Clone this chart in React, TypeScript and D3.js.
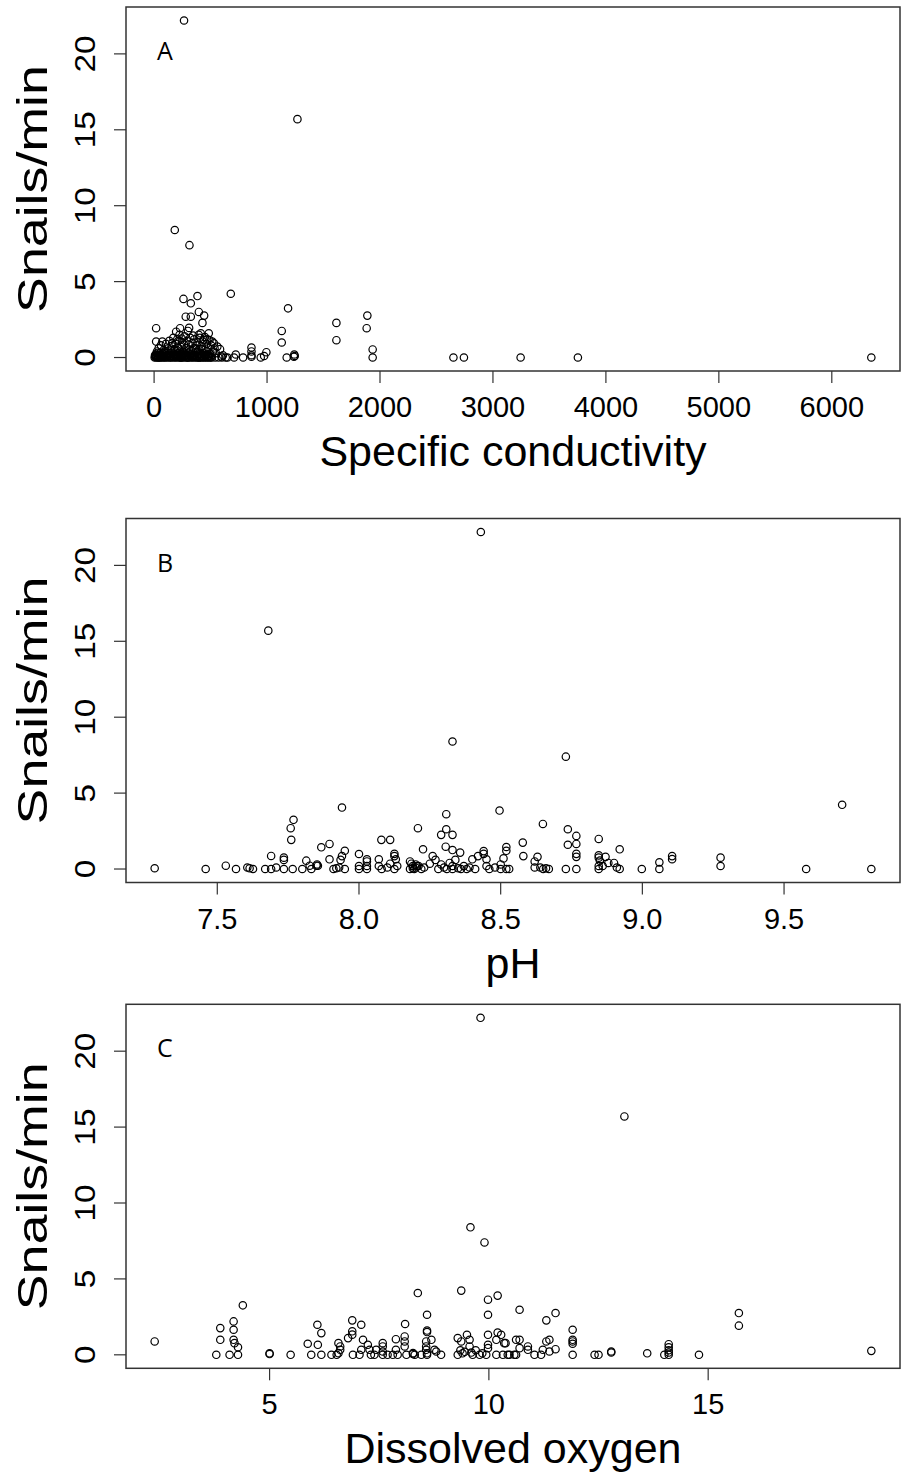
import React from "react";
import * as d3 from "d3";

// Panel A: specific conductivity vs snails/min
const condData: [number, number][] = [
  [265, 22.2], [1269, 15.7], [183, 8.4], [313, 7.4], [679, 4.2], [260, 3.86], [384, 4.05], [325, 3.57],
  [1186, 3.24], [396, 3.0], [443, 2.76], [280, 2.69], [325, 2.69], [1888, 2.76], [1614, 2.28], [428, 2.28],
  [18, 1.93], [1882, 1.93], [1130, 1.75], [230, 1.93], [310, 1.95], [413, 1.6], [484, 1.6], [1130, 0.99],
  [1614, 1.14], [1935, 0.53], [1935, 0], [1174, 0], [1241, 0.2], [1245, 0.1], [1238, 0.05], [862, 0.66],
  [862, 0.4], [862, 0.15], [862, 0.05], [994, 0.35], [974, 0.1], [944, 0], [723, 0.2], [708, 0], [788, 0],
  [634, 0], [2650, 0], [2743, 0], [3245, 0], [3752, 0], [6350, 0], [18, 1.05], [73, 1.05],
  [5, 0], [10, 0.05], [15, 0.2], [20, 0], [25, 0.4], [30, 0.1], [35, 0], [40, 0.6], [45, 0.15], [50, 0],
  [55, 0.3], [60, 0.8], [65, 0], [70, 0.05], [75, 0.25], [80, 0], [85, 0.5], [90, 0.1], [95, 0], [100, 0.35],
  [105, 0.9], [110, 0], [115, 0.15], [120, 0.05], [125, 0.6], [130, 0], [135, 1.1], [140, 0.3], [145, 0],
  [150, 0.1], [155, 0.75], [160, 0], [165, 0.4], [170, 1.3], [175, 0.05], [180, 0], [185, 0.2], [190, 0.9],
  [195, 0], [200, 0.5], [205, 1.2], [210, 0.1], [215, 0], [220, 0.3], [225, 1.5], [230, 0], [235, 0.7],
  [240, 0.15], [245, 0], [250, 1.0], [255, 0.4], [260, 0], [265, 0.05], [270, 1.4], [275, 0.2], [280, 0],
  [285, 0.6], [290, 1.1], [295, 0], [300, 0.3], [305, 0.85], [310, 0], [315, 0.1], [320, 1.3], [325, 0.45],
  [330, 0], [335, 0.2], [340, 0.95], [345, 0], [350, 0.6], [355, 1.2], [360, 0.05], [365, 0], [370, 0.35],
  [375, 0.8], [380, 0], [385, 1.0], [390, 0.2], [395, 0], [400, 0.55], [405, 1.3], [410, 0], [415, 0.1],
  [420, 0.75], [425, 0], [430, 1.05], [435, 0.3], [440, 0], [445, 0.5], [450, 1.35], [455, 0], [460, 0.2],
  [465, 0.9], [470, 0], [475, 0.05], [480, 0.6], [485, 0], [490, 1.15], [495, 0.25], [500, 0], [505, 0.8],
  [510, 0], [520, 0.4], [530, 0.94], [540, 0], [546, 0.29], [560, 0.72], [570, 0], [584, 0.55], [596, 0.07],
  [600, 0], [610, 0.15], [650, 0], [12, 0.1], [28, 0.3], [42, 0], [58, 0.1], [88, 0.2], [102, 0.05],
  [118, 0.3], [142, 0.1], [172, 0.2], [188, 0.05], [202, 0.2], [218, 0.05], [238, 0], [258, 0.25], [278, 0.1],
  [298, 0], [318, 0.2], [338, 0.05], [358, 0.15], [378, 0.1], [398, 0], [418, 0.2], [438, 0.05], [458, 0.1],
  [478, 0.2], [498, 0.05], [8, 0.15], [22, 0.05], [48, 0.25], [68, 0.15], [92, 0.3], [128, 0.2], [148, 0.45],
  [168, 0.1], [182, 0.55], [198, 0.15], [212, 0.65], [228, 0.4], [248, 0.1], [268, 0.3], [288, 0.15],
  [308, 0.5], [328, 0.25], [348, 0.1], [368, 0.6], [388, 0.45], [408, 0.25], [428, 0.55], [448, 0.15],
  [468, 0.4], [488, 0.1], [160, 0.95], [215, 1.1], [245, 1.25], [265, 0.85], [345, 1.45], [395, 1.5],
  [440, 1.15], [470, 1.2], [515, 1.05], [535, 0.6], [195, 1.7], [300, 1.75],
];

// Panel B: pH vs snails/min
const phData: [number, number][] = [
  [8.43, 22.2], [7.68, 15.7], [8.33, 8.4], [8.73, 7.4], [9.705, 4.23], [7.94, 4.05], [8.496, 3.85], [8.308, 3.61],
  [7.769, 3.24], [8.649, 2.97], [7.759, 2.69], [8.208, 2.69], [8.737, 2.62], [8.308, 2.62], [8.29, 2.25],
  [8.33, 2.25], [8.767, 2.18], [8.846, 1.98], [7.761, 1.92], [8.079, 1.92], [8.11, 1.92], [8.578, 1.74],
  [7.896, 1.65], [8.737, 1.6], [8.767, 1.65], [8.306, 1.47], [7.867, 1.43], [8.52, 1.45], [8.226, 1.3],
  [8.92, 1.3], [8.33, 1.25], [8.52, 1.2], [8.357, 1.08], [7.95, 1.2], [8.0, 0.99], [8.767, 1.0], [8.767, 0.8],
  [9.105, 0.85], [9.105, 0.65], [9.276, 0.75], [9.276, 0.2], [9.06, 0.44], [9.06, 0], [8.998, 0], [9.578, 0],
  [9.808, 0], [7.279, 0.05], [7.459, 0], [7.53, 0.22], [7.566, 0], [7.606, 0.1], [7.614, 0.05], [7.626, 0],
  [7.669, 0], [7.69, 0], [7.708, 0.1], [7.69, 0.86], [7.735, 0], [7.735, 0.6], [7.735, 0.75], [7.766, 0],
  [7.8, 0], [7.814, 0.55], [7.826, 0.22], [7.832, 0], [7.85, 0.22], [7.855, 0.22], [7.852, 0.3], [7.896, 0.64],
  [7.91, 0], [7.92, 0.05], [7.93, 0.1], [7.935, 0.6], [7.94, 0.85], [7.95, 0], [8.0, 0.2], [8.0, 0],
  [8.028, 0.64], [8.028, 0.2], [8.028, 0], [8.028, 0.5], [8.07, 0.64], [8.07, 0.2], [8.08, 0], [8.1, 0.1],
  [8.11, 0.35], [8.125, 0.85], [8.125, 1.0], [8.13, 0.64], [8.135, 0.2], [8.125, 0], [8.18, 0.5], [8.185, 0.35],
  [8.19, 0.2], [8.195, 0], [8.2, 0.1], [8.205, 0.2], [8.18, 0], [8.19, 0.05], [8.2, 0.3], [8.21, 0.2],
  [8.22, 0], [8.23, 0.1], [8.25, 0.35], [8.26, 0.85], [8.27, 0.6], [8.28, 0], [8.29, 0.3], [8.3, 0.1],
  [8.31, 0], [8.32, 0.4], [8.33, 0.2], [8.33, 0], [8.34, 0.6], [8.35, 0.05], [8.36, 0], [8.37, 0.2],
  [8.38, 0], [8.39, 0.1], [8.4, 0.64], [8.41, 0], [8.42, 0.85], [8.44, 1.18], [8.44, 1.0], [8.45, 0.64],
  [8.45, 0.2], [8.46, 0], [8.48, 0.1], [8.5, 0.3], [8.5, 0], [8.51, 0.7], [8.52, 0], [8.53, 0],
  [8.58, 0.85], [8.63, 0.8], [8.62, 0.5], [8.65, 0], [8.64, 0.1], [8.66, 0.05], [8.62, 0.1], [8.67, 0],
  [8.73, 0], [8.767, 0], [8.846, 0.9], [8.846, 0.75], [8.85, 0.55], [8.846, 0.2], [8.846, 0], [8.87, 0.8],
  [8.88, 0.4], [8.86, 0.2], [8.9, 0.4], [8.91, 0.1], [8.92, 0],
];

// Panel C: dissolved oxygen vs snails/min
const doData: [number, number][] = [
  [9.81, 22.2], [13.09, 15.7], [9.58, 8.4], [9.9, 7.4], [9.37, 4.23], [8.38, 4.07], [10.2, 3.9], [9.98, 3.63],
  [4.39, 3.26], [10.7, 2.97], [11.52, 2.75], [15.7, 2.75], [8.59, 2.64], [9.98, 2.64], [6.885, 2.27],
  [11.31, 2.27], [4.18, 2.2], [8.09, 2.03], [6.09, 1.98], [7.09, 1.98], [15.7, 1.92], [3.876, 1.76],
  [4.18, 1.65], [11.91, 1.65], [8.59, 1.6], [8.59, 1.5], [6.885, 1.55], [6.18, 1.43], [6.885, 1.33],
  [2.38, 0.88], [3.876, 0.99], [4.18, 0.99], [4.2, 0.77], [4.28, 0.5], [3.785, 0], [4.088, 0], [4.28, 0],
  [5.0, 0.1], [5.0, 0.05], [5.48, 0], [5.95, 0], [6.1, 0.66], [5.87, 0.73], [6.18, 0], [11.91, 0.99],
  [11.91, 0.88], [11.91, 0.73], [11.91, 0], [12.41, 0], [12.5, 0], [12.79, 0.22], [12.79, 0.15], [13.61, 0.1],
  [14.1, 0.7], [14.1, 0.5], [14.1, 0.3], [14.1, 0.15], [14.1, 0], [14.0, 0], [14.79, 0], [18.72, 0.26],
  [6.41, 0], [6.53, 0], [6.57, 0.77], [6.61, 0.55], [6.61, 0.33], [6.57, 0.11], [6.79, 1.1],
  [6.9, 0], [7.05, 0], [7.09, 0.33], [7.13, 0.99], [7.24, 0.66], [7.28, 0.33], [7.31, 0], [7.39, 0],
  [7.43, 0.33], [7.58, 0.77], [7.58, 0.55], [7.58, 0.22], [7.58, 0], [7.69, 0], [7.81, 0], [7.88, 1.03],
  [7.88, 0.33], [7.92, 0], [8.08, 1.21], [8.08, 0.88], [8.08, 0.55], [8.12, 0], [8.27, 0.11], [8.31, 0],
  [8.27, 0.05], [8.57, 0.88], [8.57, 0.55], [8.57, 0.33], [8.59, 0], [8.59, 0.1], [8.69, 0.99], [8.76, 0.33],
  [8.8, 0.22], [8.91, 0], [8.46, 0], [9.29, 1.1], [9.29, 0], [9.37, 0.88], [9.5, 1.32], [9.56, 0.99],
  [9.56, 0.55], [9.63, 0], [9.79, 0], [9.94, 0], [9.45, 0.2], [9.4, 0.1], [9.35, 0.3], [9.6, 0.15],
  [9.7, 0.3], [9.85, 0.1], [9.98, 1.32], [9.98, 0.66], [9.98, 0.44], [10.17, 0.99], [10.2, 1.47],
  [10.28, 1.32], [10.35, 0.77], [10.17, 0], [10.32, 0], [10.47, 0], [10.62, 0], [10.62, 0.99], [10.38, 0.77],
  [10.43, 0], [10.58, 0], [10.7, 0.99], [10.7, 0.44], [10.89, 0.55], [10.89, 0.33], [11.04, 0], [11.19, 0],
  [11.23, 0.33], [11.31, 0.88], [11.38, 0.99], [11.38, 0.22], [11.52, 0.37],
];

const yTicks = [0, 5, 10, 15, 20];
const condTicks = [0, 1000, 2000, 3000, 4000, 5000, 6000];
const phTicks = [7.5, 8.0, 8.5, 9.0, 9.5];
const doTicks = [5, 10, 15];
const xTitles = ["Specific conductivity", "pH", "Dissolved oxygen"];
const yTitle = "Snails/min";
const letters = ["A", "B", "C"];

const FONT = "'Liberation Sans', Arial, sans-serif";

function Panel(props: {
  data: [number, number][];
  xTicks: number[];
  fmt: (v: number) => string;
  title: string;
  letter: string;
  top: number;
}) {
  const { data, xTicks, fmt, title, letter, top } = props;
  const left = 126, right = 900, height = 364;
  const bottom = top + height;
  const xs = data.map((d) => d[0]);
  const xmin = d3.min(xs)!, xmax = d3.max(xs)!;
  const xr = xmax - xmin;
  const x = d3.scaleLinear().domain([xmin - 0.04 * xr, xmax + 0.04 * xr]).range([left, right]);
  const ymax = 22.2;
  const y = d3.scaleLinear().domain([-0.04 * ymax, ymax * 1.04]).range([bottom, top]);
  const midY = (top + bottom) / 2;
  return (
    <g>
      <rect x={left} y={top} width={right - left} height={height} fill="none" stroke="#333" strokeWidth={1.5} />
      {data.map((d, i) => (
        <circle key={i} cx={x(d[0])} cy={y(d[1])} r={3.7} fill="none" stroke="#000" strokeWidth={1.2} />
      ))}
      {xTicks.map((t) => (
        <g key={"x" + t}>
          <line x1={x(t)} x2={x(t)} y1={bottom} y2={bottom + 12} stroke="#333" strokeWidth={1.2} />
          <text x={x(t)} y={bottom + 46} textAnchor="middle" fontSize={29} fontFamily={FONT} fill="#000">
            {fmt(t)}
          </text>
        </g>
      ))}
      {yTicks.map((t) => (
        <g key={"y" + t}>
          <line x1={left - 12} x2={left} y1={y(t)} y2={y(t)} stroke="#333" strokeWidth={1.2} />
          <text
            transform={`translate(${left - 31},${y(t)}) rotate(-90) scale(1.15,1)`}
            textAnchor="middle"
            fontSize={29}
            fontFamily={FONT}
            fill="#000"
          >
            {t}
          </text>
        </g>
      ))}
      <text x={(left + right) / 2} y={bottom + 95} textAnchor="middle" fontSize={43} fontFamily={FONT} fill="#000">
        {title}
      </text>
      <text
        transform={`translate(47,${midY}) rotate(-90) scale(1.25,1)`}
        textAnchor="middle"
        fontSize={43}
        fontFamily={FONT}
        fill="#000"
      >
        {yTitle}
      </text>
      <text x={157} y={top + 53} fontSize={25} fontFamily="'Open Sans', sans-serif" fill="#000">
        {letter}
      </text>
    </g>
  );
}

export default function App() {
  return (
    <svg width={906} height={1479} style={{ position: "absolute", left: 0, top: 0, background: "#fff" }}>
      <rect width={906} height={1479} fill="#fff" />
      <Panel data={condData} xTicks={condTicks} fmt={(v) => String(v)} title={xTitles[0]} letter={letters[0]} top={7} />
      <Panel data={phData} xTicks={phTicks} fmt={(v) => v.toFixed(1)} title={xTitles[1]} letter={letters[1]} top={518.5} />
      <Panel data={doData} xTicks={doTicks} fmt={(v) => String(v)} title={xTitles[2]} letter={letters[2]} top={1004.3} />
    </svg>
  );
}
